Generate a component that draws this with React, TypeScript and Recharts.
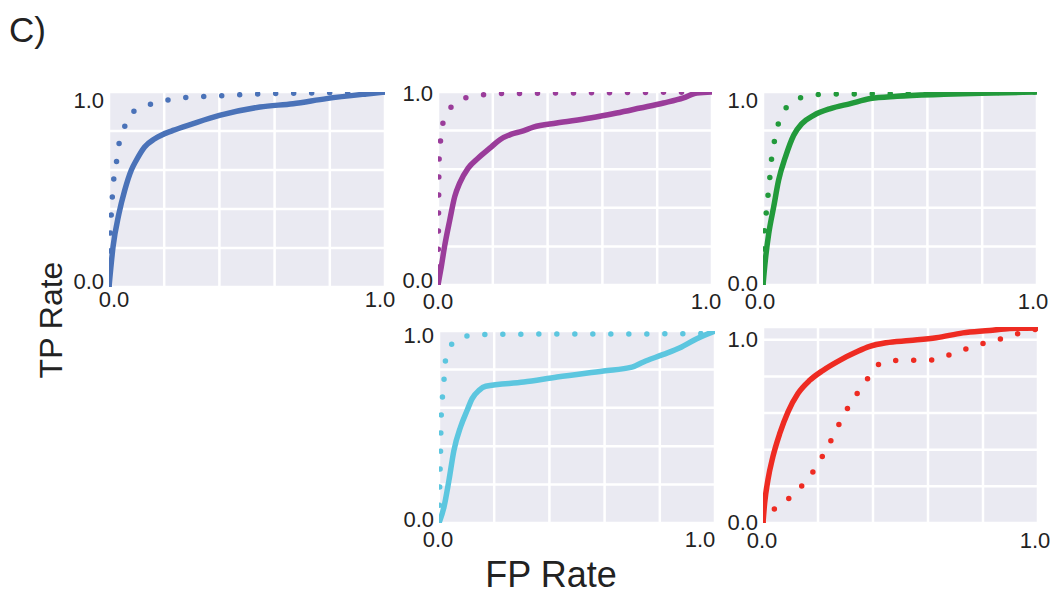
import React from 'react';
import { LineChart, Line, XAxis, YAxis, CartesianGrid } from 'recharts';

type Pt = { x: number; y: number };

const FONT = '"Liberation Sans", Arial, Helvetica, sans-serif';
const TEXT = '#222222';
const GRID_TICKS = [0, 0.2, 0.4, 0.6, 0.8, 1];

// panel 1 - blue
const blueSolid: Pt[] = [
  { x: 0, y: 0 }, { x: 0.0145, y: 0.205 }, { x: 0.036, y: 0.376 }, { x: 0.057, y: 0.496 },
  { x: 0.081, y: 0.6 }, { x: 0.099, y: 0.65 }, { x: 0.129, y: 0.718 }, { x: 0.166, y: 0.76 },
  { x: 0.232, y: 0.803 }, { x: 0.305, y: 0.838 }, { x: 0.4, y: 0.88 }, { x: 0.547, y: 0.923 },
  { x: 0.667, y: 0.94 }, { x: 0.788, y: 0.966 }, { x: 0.933, y: 0.99 }, { x: 1, y: 1 },
];
const blueDotted: Pt[] = [
  { x: 0, y: 0 }, { x: 0.002, y: 0.103 }, { x: 0.003, y: 0.188 }, { x: 0.005, y: 0.282 },
  { x: 0.008, y: 0.368 }, { x: 0.012, y: 0.462 }, { x: 0.017, y: 0.55 }, { x: 0.027, y: 0.641 },
  { x: 0.036, y: 0.732 }, { x: 0.054, y: 0.812 }, { x: 0.081, y: 0.889 }, { x: 0.123, y: 0.923 },
  { x: 0.184, y: 0.949 }, { x: 0.244, y: 0.966 }, { x: 0.305, y: 0.974 }, { x: 0.371, y: 0.979 },
  { x: 0.438, y: 0.983 }, { x: 0.498, y: 0.988 }, { x: 0.565, y: 0.991 }, { x: 0.75, y: 0.995 },
  { x: 1, y: 1 },
];

// panel 2 - purple
const purpleSolid: Pt[] = [
  { x: 0, y: 0 }, { x: 0.012, y: 0.095 }, { x: 0.024, y: 0.2 }, { x: 0.043, y: 0.337 },
  { x: 0.061, y: 0.458 }, { x: 0.079, y: 0.528 }, { x: 0.11, y: 0.606 }, { x: 0.146, y: 0.657 },
  { x: 0.189, y: 0.709 }, { x: 0.226, y: 0.753 }, { x: 0.268, y: 0.782 }, { x: 0.305, y: 0.796 },
  { x: 0.348, y: 0.818 }, { x: 0.433, y: 0.839 }, { x: 0.555, y: 0.865 }, { x: 0.652, y: 0.891 },
  { x: 0.738, y: 0.917 }, { x: 0.823, y: 0.943 }, { x: 0.896, y: 0.969 }, { x: 0.945, y: 0.995 },
  { x: 1, y: 1 },
];
const purpleDotted: Pt[] = [
  { x: 0, y: 0 }, { x: 0.001, y: 0.164 }, { x: 0.0015, y: 0.277 }, { x: 0.002, y: 0.372 },
  { x: 0.0025, y: 0.467 }, { x: 0.003, y: 0.562 }, { x: 0.004, y: 0.649 }, { x: 0.009, y: 0.744 },
  { x: 0.018, y: 0.839 }, { x: 0.043, y: 0.912 }, { x: 0.082, y: 0.96 }, { x: 0.146, y: 0.981 },
  { x: 0.207, y: 0.991 }, { x: 0.5, y: 0.995 }, { x: 1, y: 1 },
];

// panel 3 - green
const greenSolid: Pt[] = [
  { x: 0, y: 0 }, { x: 0.0085, y: 0.129 }, { x: 0.021, y: 0.267 }, { x: 0.039, y: 0.405 },
  { x: 0.057, y: 0.543 }, { x: 0.082, y: 0.664 }, { x: 0.112, y: 0.776 }, { x: 0.142, y: 0.836 },
  { x: 0.185, y: 0.879 }, { x: 0.246, y: 0.914 }, { x: 0.319, y: 0.94 }, { x: 0.392, y: 0.966 },
  { x: 0.489, y: 0.978 }, { x: 0.66, y: 0.988 }, { x: 0.842, y: 0.995 }, { x: 1, y: 1 },
];
const greenDotted: Pt[] = [
  { x: 0, y: 0 }, { x: 0.002, y: 0.172 }, { x: 0.005, y: 0.267 }, { x: 0.011, y: 0.362 },
  { x: 0.017, y: 0.448 }, { x: 0.024, y: 0.543 }, { x: 0.03, y: 0.638 }, { x: 0.039, y: 0.724 },
  { x: 0.051, y: 0.81 }, { x: 0.073, y: 0.891 }, { x: 0.106, y: 0.948 }, { x: 0.161, y: 0.979 },
  { x: 0.221, y: 0.988 }, { x: 0.6, y: 0.993 }, { x: 1, y: 1 },
];

// panel 4 - cyan
const cyanSolid: Pt[] = [
  { x: 0, y: 0 }, { x: 0.018, y: 0.083 }, { x: 0.036, y: 0.222 }, { x: 0.054, y: 0.378 },
  { x: 0.078, y: 0.5 }, { x: 0.102, y: 0.587 }, { x: 0.12, y: 0.648 }, { x: 0.145, y: 0.691 },
  { x: 0.169, y: 0.712 }, { x: 0.307, y: 0.734 }, { x: 0.428, y: 0.76 }, { x: 0.596, y: 0.792 },
  { x: 0.699, y: 0.812 }, { x: 0.741, y: 0.839 }, { x: 0.813, y: 0.878 }, { x: 0.873, y: 0.913 },
  { x: 0.934, y: 0.96 }, { x: 1, y: 1 },
];
const cyanDotted: Pt[] = [
  { x: 0, y: 0 }, { x: 0.0015, y: 0.083 }, { x: 0.0025, y: 0.187 }, { x: 0.004, y: 0.283 },
  { x: 0.0055, y: 0.37 }, { x: 0.0065, y: 0.462 }, { x: 0.008, y: 0.556 }, { x: 0.012, y: 0.648 },
  { x: 0.018, y: 0.743 }, { x: 0.022, y: 0.833 }, { x: 0.04, y: 0.917 }, { x: 0.078, y: 0.965 },
  { x: 0.145, y: 0.981 }, { x: 0.205, y: 0.983 }, { x: 0.934, y: 0.986 }, { x: 1, y: 1 },
];

// panel 5 - red
const redSolid: Pt[] = [
  { x: 0, y: 0 }, { x: 0.006, y: 0.109 }, { x: 0.018, y: 0.236 }, { x: 0.036, y: 0.362 },
  { x: 0.061, y: 0.489 }, { x: 0.091, y: 0.607 }, { x: 0.127, y: 0.707 }, { x: 0.17, y: 0.779 },
  { x: 0.218, y: 0.833 }, { x: 0.279, y: 0.888 }, { x: 0.339, y: 0.933 }, { x: 0.388, y: 0.964 },
  { x: 0.448, y: 0.984 }, { x: 0.533, y: 0.996 }, { x: 0.63, y: 1.011 }, { x: 0.727, y: 1.038 },
  { x: 0.824, y: 1.051 }, { x: 0.897, y: 1.062 }, { x: 1, y: 1.065 },
];
const redDotted: Pt[] = [
  { x: 0, y: 0 }, { x: 0.036, y: 0.069 }, { x: 0.082, y: 0.118 }, { x: 0.121, y: 0.172 },
  { x: 0.158, y: 0.232 }, { x: 0.192, y: 0.303 }, { x: 0.221, y: 0.377 }, { x: 0.248, y: 0.453 },
  { x: 0.273, y: 0.529 }, { x: 0.3, y: 0.607 }, { x: 0.33, y: 0.679 }, { x: 0.361, y: 0.748 },
  { x: 0.394, y: 0.815 }, { x: 0.43, y: 0.875 }, { x: 0.491, y: 0.888 }, { x: 0.558, y: 0.888 },
  { x: 0.624, y: 0.891 }, { x: 0.679, y: 0.918 }, { x: 0.733, y: 0.947 }, { x: 0.788, y: 0.975 },
  { x: 0.846, y: 0.996 }, { x: 0.903, y: 1.024 }, { x: 0.958, y: 1.045 }, { x: 1, y: 1.06 },
];

interface Box { left: number; top: number; w: number; h: number }

interface PanelProps {
  box: Box;
  solid: Pt[];
  dotted: Pt[];
  color: string;
  yMax?: number;
  xOff: [number, number];
  yOff: [number, number];
  xGap: number;
}

const ML = 50;
const MT = 20;
const MR = 16;
const XH = 36;

const tickLabel = (v: number) => (v === 0 ? '0.0' : v === 1 ? '1.0' : '');

const Panel: React.FC<PanelProps> = ({ box, solid, dotted, color, yMax = 1, xOff, yOff, xGap }) => {
  const xTick = (p: any) => {
    const v = p.payload.value;
    const label = tickLabel(v);
    if (!label) return <g />;
    const dx = v === 0 ? xOff[0] : xOff[1];
    return (
      <text x={p.x + dx} y={p.y + xGap} dy="0.36em" textAnchor="middle" fontSize={22} fill={TEXT} fontFamily={FONT}>
        {label}
      </text>
    );
  };
  const yTick = (p: any) => {
    const v = p.payload.value;
    const label = tickLabel(v);
    if (!label) return <g />;
    const dy = v === 0 ? yOff[0] : yOff[1];
    return (
      <text x={p.x - 5} y={p.y + dy} dy="0.36em" textAnchor="end" fontSize={22} fill={TEXT} fontFamily={FONT}>
        {label}
      </text>
    );
  };

  return (
    <div style={{ position: 'absolute', left: box.left - ML, top: box.top - MT }}>
      <LineChart
        width={box.w + ML + MR}
        height={box.h + MT + XH}
        margin={{ top: MT, right: MR, left: 0, bottom: 0 }}
      >
        <CartesianGrid fill="#EAEAF2" fillOpacity={1} stroke="#ffffff" strokeWidth={2.5} />
        <XAxis
          type="number"
          dataKey="x"
          domain={[0, 1]}
          ticks={GRID_TICKS}
          interval={0}
          allowDataOverflow
          axisLine={false}
          tickLine={false}
          tickSize={0}
          tickMargin={0}
          height={XH}
          tick={xTick}
        />
        <YAxis
          type="number"
          dataKey="y"
          domain={[0, yMax]}
          ticks={GRID_TICKS}
          interval={0}
          allowDataOverflow
          axisLine={false}
          tickLine={false}
          tickSize={0}
          tickMargin={0}
          width={ML}
          tick={yTick}
        />
        <Line
          data={dotted}
          dataKey="y"
          type="monotone"
          stroke={color}
          strokeWidth={5.5}
          strokeDasharray="0 18"
          strokeLinecap="round"
          dot={false}
          isAnimationActive={false}
        />
        <Line
          data={solid}
          dataKey="y"
          type="monotone"
          stroke={color}
          strokeWidth={5.5}
          strokeLinejoin="round"
          dot={false}
          isAnimationActive={false}
        />
      </LineChart>
    </div>
  );
};

export default function App() {
  return (
    <div style={{ position: 'absolute', left: 0, top: 0, width: 1054, height: 589, background: '#fff', overflow: 'hidden' }}>
      <Panel box={{ left: 109, top: 92, w: 276, h: 195 }} solid={blueSolid} dotted={blueDotted} color="#4A72B8"
        xOff={[5, -5]} yOff={[-6, 8]} xGap={12} />
      <Panel box={{ left: 438, top: 92, w: 274, h: 193 }} solid={purpleSolid} dotted={purpleDotted} color="#9A3C9A"
        xOff={[0, -6]} yOff={[-5, 1]} xGap={16} />
      <Panel box={{ left: 763, top: 92, w: 274, h: 193 }} solid={greenSolid} dotted={greenDotted} color="#229A3B"
        xOff={[-3, -4]} yOff={[-2, 8]} xGap={16} />
      <Panel box={{ left: 439, top: 331, w: 276, h: 192 }} solid={cyanSolid} dotted={cyanDotted} color="#5CC6DF"
        xOff={[-1, -15]} yOff={[-4, 4]} xGap={16} />
      <Panel box={{ left: 763, top: 327, w: 275, h: 196 }} solid={redSolid} dotted={redDotted} color="#EE2B22"
        yMax={1.07} xOff={[-1, -3]} yOff={[-1, -1]} xGap={17} />

      <svg width={1054} height={589} style={{ position: 'absolute', left: 0, top: 0, pointerEvents: 'none' }}>
        <text x={9} y={42} fontSize={35} fill={TEXT} fontFamily={FONT}>C)</text>
        <text transform="translate(62,320) rotate(-90)" textAnchor="middle" fontSize={32} fill={TEXT} fontFamily={FONT}>
          TP Rate
        </text>
        <text x={551} y={587} textAnchor="middle" fontSize={36} fill={TEXT} fontFamily={FONT}>FP Rate</text>
      </svg>
    </div>
  );
}
